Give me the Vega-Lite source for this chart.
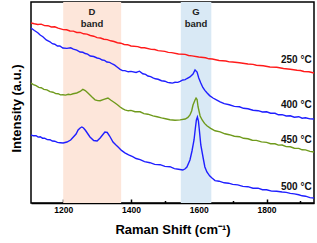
{
  "$schema": "https://vega.github.io/schema/vega-lite/v6.json",
  "width": 283,
  "height": 201,
  "autosize": {"type": "none"},
  "padding": {"left": 31, "top": 2, "right": 3, "bottom": 40},
  "background": "white",
  "config": {
    "view": {"stroke": "black", "strokeWidth": 1.5},
    "font": "Liberation Sans"
  },
  "datasets": {
    "bands": [
      {"band": "D", "start": 1200, "end": 1371},
      {"band": "G", "start": 1547, "end": 1637}
    ],
    "labels": [
      {"label": "250 °C", "x": 1933, "y": 143, "kind": "temp"},
      {"label": "400 °C", "x": 1933, "y": 98, "kind": "temp"},
      {"label": "450 °C", "x": 1933, "y": 63, "kind": "temp"},
      {"label": "500 °C", "x": 1933, "y": 16, "kind": "temp"},
      {"label": "D", "x": 1285, "y": 191, "kind": "band"},
      {"label": "band", "x": 1285, "y": 179, "kind": "band"},
      {"label": "G", "x": 1592, "y": 191, "kind": "band"},
      {"label": "band", "x": 1592, "y": 179, "kind": "band"}
    ],
    "spectra": [
      {"s": "250 °C", "w": 1105, "v": 180},
      {"s": "250 °C", "w": 1115, "v": 179.2},
      {"s": "250 °C", "w": 1125, "v": 178.5},
      {"s": "250 °C", "w": 1135, "v": 178.9},
      {"s": "250 °C", "w": 1145, "v": 177.4},
      {"s": "250 °C", "w": 1155, "v": 177.3},
      {"s": "250 °C", "w": 1165, "v": 176},
      {"s": "250 °C", "w": 1175, "v": 176.2},
      {"s": "250 °C", "w": 1185, "v": 174.9},
      {"s": "250 °C", "w": 1200, "v": 173.4},
      {"s": "250 °C", "w": 1210, "v": 173.2},
      {"s": "250 °C", "w": 1220, "v": 172},
      {"s": "250 °C", "w": 1230, "v": 171.9},
      {"s": "250 °C", "w": 1240, "v": 170.5},
      {"s": "250 °C", "w": 1250, "v": 170.6},
      {"s": "250 °C", "w": 1260, "v": 169.2},
      {"s": "250 °C", "w": 1270, "v": 168.9},
      {"s": "250 °C", "w": 1280, "v": 167.5},
      {"s": "250 °C", "w": 1290, "v": 166.8},
      {"s": "250 °C", "w": 1300, "v": 165.4},
      {"s": "250 °C", "w": 1310, "v": 165},
      {"s": "250 °C", "w": 1320, "v": 163.8},
      {"s": "250 °C", "w": 1330, "v": 163.4},
      {"s": "250 °C", "w": 1340, "v": 162.2},
      {"s": "250 °C", "w": 1350, "v": 161.5},
      {"s": "250 °C", "w": 1360, "v": 160.3},
      {"s": "250 °C", "w": 1370, "v": 159.8},
      {"s": "250 °C", "w": 1380, "v": 158.5},
      {"s": "250 °C", "w": 1390, "v": 158.3},
      {"s": "250 °C", "w": 1400, "v": 157},
      {"s": "250 °C", "w": 1420, "v": 156.4},
      {"s": "250 °C", "w": 1430, "v": 155.3},
      {"s": "250 °C", "w": 1440, "v": 155.2},
      {"s": "250 °C", "w": 1460, "v": 153.6},
      {"s": "250 °C", "w": 1470, "v": 153.5},
      {"s": "250 °C", "w": 1480, "v": 152.4},
      {"s": "250 °C", "w": 1500, "v": 151.6},
      {"s": "250 °C", "w": 1510, "v": 150.6},
      {"s": "250 °C", "w": 1520, "v": 150.4},
      {"s": "250 °C", "w": 1540, "v": 149},
      {"s": "250 °C", "w": 1560, "v": 148.6},
      {"s": "250 °C", "w": 1570, "v": 147.5},
      {"s": "250 °C", "w": 1580, "v": 147.1},
      {"s": "250 °C", "w": 1600, "v": 146},
      {"s": "250 °C", "w": 1620, "v": 145.2},
      {"s": "250 °C", "w": 1630, "v": 144.2},
      {"s": "250 °C", "w": 1640, "v": 144},
      {"s": "250 °C", "w": 1660, "v": 142.5},
      {"s": "250 °C", "w": 1680, "v": 142},
      {"s": "250 °C", "w": 1690, "v": 141.1},
      {"s": "250 °C", "w": 1700, "v": 141},
      {"s": "250 °C", "w": 1720, "v": 140.2},
      {"s": "250 °C", "w": 1745, "v": 139},
      {"s": "250 °C", "w": 1760, "v": 138.6},
      {"s": "250 °C", "w": 1770, "v": 137.8},
      {"s": "250 °C", "w": 1790, "v": 137.3},
      {"s": "250 °C", "w": 1810, "v": 136},
      {"s": "250 °C", "w": 1830, "v": 135.7},
      {"s": "250 °C", "w": 1850, "v": 134.5},
      {"s": "250 °C", "w": 1870, "v": 133.8},
      {"s": "250 °C", "w": 1890, "v": 132.8},
      {"s": "250 °C", "w": 1900, "v": 132.5},
      {"s": "250 °C", "w": 1910, "v": 131.5},
      {"s": "250 °C", "w": 1925, "v": 131.3},
      {"s": "250 °C", "w": 1940, "v": 130},

      {"s": "400 °C", "w": 1105, "v": 175},
      {"s": "400 °C", "w": 1115, "v": 172.5},
      {"s": "400 °C", "w": 1125, "v": 170.3},
      {"s": "400 °C", "w": 1132, "v": 168},
      {"s": "400 °C", "w": 1140, "v": 166.3},
      {"s": "400 °C", "w": 1150, "v": 163},
      {"s": "400 °C", "w": 1161, "v": 161.2},
      {"s": "400 °C", "w": 1168, "v": 159.3},
      {"s": "400 °C", "w": 1175, "v": 158.8},
      {"s": "400 °C", "w": 1183, "v": 157},
      {"s": "400 °C", "w": 1190, "v": 157.1},
      {"s": "400 °C", "w": 1199, "v": 155},
      {"s": "400 °C", "w": 1211, "v": 154.6},
      {"s": "400 °C", "w": 1222, "v": 155.2},
      {"s": "400 °C", "w": 1230, "v": 153.8},
      {"s": "400 °C", "w": 1240, "v": 152.8},
      {"s": "400 °C", "w": 1250, "v": 151},
      {"s": "400 °C", "w": 1258, "v": 150.7},
      {"s": "400 °C", "w": 1265, "v": 149.5},
      {"s": "400 °C", "w": 1272, "v": 148.9},
      {"s": "400 °C", "w": 1280, "v": 147},
      {"s": "400 °C", "w": 1290, "v": 146.5},
      {"s": "400 °C", "w": 1300, "v": 145},
      {"s": "400 °C", "w": 1308, "v": 144.4},
      {"s": "400 °C", "w": 1315, "v": 143},
      {"s": "400 °C", "w": 1322, "v": 142.6},
      {"s": "400 °C", "w": 1329, "v": 141},
      {"s": "400 °C", "w": 1337, "v": 140.6},
      {"s": "400 °C", "w": 1345, "v": 139},
      {"s": "400 °C", "w": 1352, "v": 137.9},
      {"s": "400 °C", "w": 1359, "v": 136},
      {"s": "400 °C", "w": 1368, "v": 133.6},
      {"s": "400 °C", "w": 1375, "v": 132.4},
      {"s": "400 °C", "w": 1382, "v": 132.4},
      {"s": "400 °C", "w": 1392, "v": 131.2},
      {"s": "400 °C", "w": 1400, "v": 131.6},
      {"s": "400 °C", "w": 1415, "v": 130.5},
      {"s": "400 °C", "w": 1425, "v": 131.8},
      {"s": "400 °C", "w": 1435, "v": 129.2},
      {"s": "400 °C", "w": 1443, "v": 128.6},
      {"s": "400 °C", "w": 1450, "v": 127},
      {"s": "400 °C", "w": 1458, "v": 126.4},
      {"s": "400 °C", "w": 1465, "v": 125.2},
      {"s": "400 °C", "w": 1472, "v": 124.2},
      {"s": "400 °C", "w": 1480, "v": 123.7},
      {"s": "400 °C", "w": 1490, "v": 122.3},
      {"s": "400 °C", "w": 1500, "v": 121.8},
      {"s": "400 °C", "w": 1508, "v": 120.6},
      {"s": "400 °C", "w": 1515, "v": 120.3},
      {"s": "400 °C", "w": 1522, "v": 119.9},
      {"s": "400 °C", "w": 1530, "v": 120.7},
      {"s": "400 °C", "w": 1538, "v": 120.6},
      {"s": "400 °C", "w": 1545, "v": 121.6},
      {"s": "400 °C", "w": 1553, "v": 123},
      {"s": "400 °C", "w": 1560, "v": 123.4},
      {"s": "400 °C", "w": 1565, "v": 124.5},
      {"s": "400 °C", "w": 1574, "v": 126},
      {"s": "400 °C", "w": 1583, "v": 129},
      {"s": "400 °C", "w": 1589, "v": 133},
      {"s": "400 °C", "w": 1595, "v": 131},
      {"s": "400 °C", "w": 1600, "v": 125},
      {"s": "400 °C", "w": 1606, "v": 120},
      {"s": "400 °C", "w": 1612, "v": 115.5},
      {"s": "400 °C", "w": 1618, "v": 112.6},
      {"s": "400 °C", "w": 1624, "v": 110.2},
      {"s": "400 °C", "w": 1632, "v": 107.4},
      {"s": "400 °C", "w": 1642, "v": 105},
      {"s": "400 °C", "w": 1652, "v": 103.2},
      {"s": "400 °C", "w": 1663, "v": 101.2},
      {"s": "400 °C", "w": 1675, "v": 99.3},
      {"s": "400 °C", "w": 1690, "v": 98.2},
      {"s": "400 °C", "w": 1705, "v": 96.6},
      {"s": "400 °C", "w": 1720, "v": 96.2},
      {"s": "400 °C", "w": 1732, "v": 94.7},
      {"s": "400 °C", "w": 1745, "v": 94.2},
      {"s": "400 °C", "w": 1760, "v": 92.8},
      {"s": "400 °C", "w": 1775, "v": 92.3},
      {"s": "400 °C", "w": 1788, "v": 91},
      {"s": "400 °C", "w": 1800, "v": 91.2},
      {"s": "400 °C", "w": 1812, "v": 89.8},
      {"s": "400 °C", "w": 1825, "v": 89.7},
      {"s": "400 °C", "w": 1835, "v": 88.2},
      {"s": "400 °C", "w": 1846, "v": 88.3},
      {"s": "400 °C", "w": 1858, "v": 87},
      {"s": "400 °C", "w": 1870, "v": 87.2},
      {"s": "400 °C", "w": 1882, "v": 85.8},
      {"s": "400 °C", "w": 1895, "v": 86.3},
      {"s": "400 °C", "w": 1905, "v": 84.8},
      {"s": "400 °C", "w": 1915, "v": 85.2},
      {"s": "400 °C", "w": 1928, "v": 84.1},
      {"s": "400 °C", "w": 1940, "v": 84},

      {"s": "450 °C", "w": 1105, "v": 120},
      {"s": "450 °C", "w": 1112, "v": 118.4},
      {"s": "450 °C", "w": 1120, "v": 117.3},
      {"s": "450 °C", "w": 1128, "v": 115.6},
      {"s": "450 °C", "w": 1135, "v": 115.3},
      {"s": "450 °C", "w": 1143, "v": 113.6},
      {"s": "450 °C", "w": 1152, "v": 113.2},
      {"s": "450 °C", "w": 1161, "v": 111.3},
      {"s": "450 °C", "w": 1170, "v": 110.8},
      {"s": "450 °C", "w": 1178, "v": 109.4},
      {"s": "450 °C", "w": 1185, "v": 109.3},
      {"s": "450 °C", "w": 1192, "v": 108.1},
      {"s": "450 °C", "w": 1199, "v": 108.3},
      {"s": "450 °C", "w": 1207, "v": 107.9},
      {"s": "450 °C", "w": 1215, "v": 108.7},
      {"s": "450 °C", "w": 1222, "v": 108.4},
      {"s": "450 °C", "w": 1229, "v": 109.2},
      {"s": "450 °C", "w": 1240, "v": 110},
      {"s": "450 °C", "w": 1250, "v": 111.5},
      {"s": "450 °C", "w": 1258, "v": 113.6},
      {"s": "450 °C", "w": 1265, "v": 112.5},
      {"s": "450 °C", "w": 1273, "v": 110},
      {"s": "450 °C", "w": 1285, "v": 106},
      {"s": "450 °C", "w": 1294, "v": 103.2},
      {"s": "450 °C", "w": 1302, "v": 102.4},
      {"s": "450 °C", "w": 1309, "v": 102.3},
      {"s": "450 °C", "w": 1320, "v": 103.6},
      {"s": "450 °C", "w": 1332, "v": 105},
      {"s": "450 °C", "w": 1340, "v": 103},
      {"s": "450 °C", "w": 1353, "v": 100},
      {"s": "450 °C", "w": 1360, "v": 98.2},
      {"s": "450 °C", "w": 1368, "v": 96},
      {"s": "450 °C", "w": 1375, "v": 94.4},
      {"s": "450 °C", "w": 1382, "v": 93.2},
      {"s": "450 °C", "w": 1392, "v": 92.2},
      {"s": "450 °C", "w": 1400, "v": 92.6},
      {"s": "450 °C", "w": 1412, "v": 91.3},
      {"s": "450 °C", "w": 1427, "v": 91.2},
      {"s": "450 °C", "w": 1438, "v": 89.4},
      {"s": "450 °C", "w": 1450, "v": 88.8},
      {"s": "450 °C", "w": 1465, "v": 87.1},
      {"s": "450 °C", "w": 1477, "v": 86.3},
      {"s": "450 °C", "w": 1490, "v": 85.1},
      {"s": "450 °C", "w": 1502, "v": 84.2},
      {"s": "450 °C", "w": 1515, "v": 83.2},
      {"s": "450 °C", "w": 1530, "v": 82.8},
      {"s": "450 °C", "w": 1545, "v": 83.1},
      {"s": "450 °C", "w": 1560, "v": 84},
      {"s": "450 °C", "w": 1568, "v": 85.6},
      {"s": "450 °C", "w": 1574, "v": 88},
      {"s": "450 °C", "w": 1579, "v": 92},
      {"s": "450 °C", "w": 1583, "v": 98},
      {"s": "450 °C", "w": 1589, "v": 103},
      {"s": "450 °C", "w": 1592, "v": 105},
      {"s": "450 °C", "w": 1595, "v": 103.5},
      {"s": "450 °C", "w": 1598, "v": 96},
      {"s": "450 °C", "w": 1604, "v": 87},
      {"s": "450 °C", "w": 1610, "v": 83},
      {"s": "450 °C", "w": 1617, "v": 79.6},
      {"s": "450 °C", "w": 1624, "v": 77.2},
      {"s": "450 °C", "w": 1635, "v": 74.6},
      {"s": "450 °C", "w": 1648, "v": 72.2},
      {"s": "450 °C", "w": 1663, "v": 71.1},
      {"s": "450 °C", "w": 1677, "v": 69.2},
      {"s": "450 °C", "w": 1690, "v": 68.3},
      {"s": "450 °C", "w": 1705, "v": 66.8},
      {"s": "450 °C", "w": 1720, "v": 66.3},
      {"s": "450 °C", "w": 1732, "v": 64.7},
      {"s": "450 °C", "w": 1745, "v": 64.2},
      {"s": "450 °C", "w": 1758, "v": 62.8},
      {"s": "450 °C", "w": 1770, "v": 62.6},
      {"s": "450 °C", "w": 1785, "v": 61.1},
      {"s": "450 °C", "w": 1800, "v": 60.6},
      {"s": "450 °C", "w": 1812, "v": 59.3},
      {"s": "450 °C", "w": 1825, "v": 59.2},
      {"s": "450 °C", "w": 1835, "v": 57.9},
      {"s": "450 °C", "w": 1846, "v": 58},
      {"s": "450 °C", "w": 1858, "v": 56.4},
      {"s": "450 °C", "w": 1870, "v": 56.2},
      {"s": "450 °C", "w": 1882, "v": 54.8},
      {"s": "450 °C", "w": 1895, "v": 54.6},
      {"s": "450 °C", "w": 1905, "v": 53.2},
      {"s": "450 °C", "w": 1915, "v": 53.1},
      {"s": "450 °C", "w": 1928, "v": 51.6},
      {"s": "450 °C", "w": 1940, "v": 51},

      {"s": "500 °C", "w": 1105, "v": 68},
      {"s": "500 °C", "w": 1112, "v": 67.2},
      {"s": "500 °C", "w": 1120, "v": 67.4},
      {"s": "500 °C", "w": 1126, "v": 65.9},
      {"s": "500 °C", "w": 1132, "v": 66.3},
      {"s": "500 °C", "w": 1139, "v": 64.8},
      {"s": "500 °C", "w": 1145, "v": 64.9},
      {"s": "500 °C", "w": 1153, "v": 63.4},
      {"s": "500 °C", "w": 1161, "v": 63.3},
      {"s": "500 °C", "w": 1168, "v": 62},
      {"s": "500 °C", "w": 1175, "v": 61.8},
      {"s": "500 °C", "w": 1183, "v": 60.6},
      {"s": "500 °C", "w": 1191, "v": 60.3},
      {"s": "500 °C", "w": 1200, "v": 60},
      {"s": "500 °C", "w": 1211, "v": 61},
      {"s": "500 °C", "w": 1222, "v": 63},
      {"s": "500 °C", "w": 1230, "v": 66},
      {"s": "500 °C", "w": 1238, "v": 69},
      {"s": "500 °C", "w": 1244, "v": 73},
      {"s": "500 °C", "w": 1250, "v": 75},
      {"s": "500 °C", "w": 1255, "v": 76},
      {"s": "500 °C", "w": 1260, "v": 75},
      {"s": "500 °C", "w": 1266, "v": 72.5},
      {"s": "500 °C", "w": 1273, "v": 69},
      {"s": "500 °C", "w": 1279, "v": 66},
      {"s": "500 °C", "w": 1290, "v": 62.5},
      {"s": "500 °C", "w": 1300, "v": 62},
      {"s": "500 °C", "w": 1309, "v": 65},
      {"s": "500 °C", "w": 1316, "v": 68},
      {"s": "500 °C", "w": 1323, "v": 71},
      {"s": "500 °C", "w": 1330, "v": 70.5},
      {"s": "500 °C", "w": 1337, "v": 67},
      {"s": "500 °C", "w": 1347, "v": 61},
      {"s": "500 °C", "w": 1355, "v": 58.2},
      {"s": "500 °C", "w": 1362, "v": 56},
      {"s": "500 °C", "w": 1372, "v": 52.6},
      {"s": "500 °C", "w": 1382, "v": 50.2},
      {"s": "500 °C", "w": 1393, "v": 48.2},
      {"s": "500 °C", "w": 1405, "v": 46.4},
      {"s": "500 °C", "w": 1415, "v": 44.5},
      {"s": "500 °C", "w": 1427, "v": 43.4},
      {"s": "500 °C", "w": 1440, "v": 41.4},
      {"s": "500 °C", "w": 1456, "v": 40.3},
      {"s": "500 °C", "w": 1470, "v": 38.6},
      {"s": "500 °C", "w": 1486, "v": 38.3},
      {"s": "500 °C", "w": 1500, "v": 36.6},
      {"s": "500 °C", "w": 1515, "v": 36.3},
      {"s": "500 °C", "w": 1528, "v": 34.4},
      {"s": "500 °C", "w": 1540, "v": 33.8},
      {"s": "500 °C", "w": 1553, "v": 33},
      {"s": "500 °C", "w": 1560, "v": 34.2},
      {"s": "500 °C", "w": 1565, "v": 36},
      {"s": "500 °C", "w": 1574, "v": 43},
      {"s": "500 °C", "w": 1580, "v": 52},
      {"s": "500 °C", "w": 1586, "v": 63},
      {"s": "500 °C", "w": 1590, "v": 75},
      {"s": "500 °C", "w": 1593, "v": 83},
      {"s": "500 °C", "w": 1596, "v": 86},
      {"s": "500 °C", "w": 1599, "v": 82},
      {"s": "500 °C", "w": 1602, "v": 72},
      {"s": "500 °C", "w": 1606, "v": 58},
      {"s": "500 °C", "w": 1613, "v": 45},
      {"s": "500 °C", "w": 1618, "v": 36},
      {"s": "500 °C", "w": 1624, "v": 31},
      {"s": "500 °C", "w": 1632, "v": 27.2},
      {"s": "500 °C", "w": 1639, "v": 25},
      {"s": "500 °C", "w": 1648, "v": 22.4},
      {"s": "500 °C", "w": 1660, "v": 21.8},
      {"s": "500 °C", "w": 1675, "v": 20.2},
      {"s": "500 °C", "w": 1688, "v": 19.8},
      {"s": "500 °C", "w": 1700, "v": 18.6},
      {"s": "500 °C", "w": 1715, "v": 18.1},
      {"s": "500 °C", "w": 1730, "v": 16.6},
      {"s": "500 °C", "w": 1745, "v": 16.3},
      {"s": "500 °C", "w": 1760, "v": 14.8},
      {"s": "500 °C", "w": 1775, "v": 14.8},
      {"s": "500 °C", "w": 1788, "v": 13.3},
      {"s": "500 °C", "w": 1800, "v": 13.2},
      {"s": "500 °C", "w": 1815, "v": 11.9},
      {"s": "500 °C", "w": 1830, "v": 11.8},
      {"s": "500 °C", "w": 1846, "v": 11},
      {"s": "500 °C", "w": 1858, "v": 10.6},
      {"s": "500 °C", "w": 1870, "v": 9.6},
      {"s": "500 °C", "w": 1882, "v": 9.1},
      {"s": "500 °C", "w": 1895, "v": 8.2},
      {"s": "500 °C", "w": 1905, "v": 7.2},
      {"s": "500 °C", "w": 1915, "v": 6.8},
      {"s": "500 °C", "w": 1928, "v": 5.4},
      {"s": "500 °C", "w": 1940, "v": 5}
    ]
  },
  "layer": [
    {
      "data": {"name": "bands"},
      "mark": {"type": "rect"},
      "encoding": {
        "x": {
          "field": "start", "type": "quantitative",
          "scale": {"domain": [1105, 1940], "nice": false, "zero": false},
          "axis": {
            "title": "Raman Shift (cm⁻¹)",
            "values": [1200, 1300, 1400, 1500, 1600, 1700, 1800, 1900],
            "format": "d",
            "labelExpr": "datum.value % 200 == 0 ? datum.label : ''",
            "labelFontSize": 8.5,
            "labelFontWeight": "bold",
            "labelColor": "black",
            "labelPadding": 6,
            "tickColor": "black",
            "tickWidth": 1.5,
            "tickSize": {"condition": {"test": "datum.value % 200 == 0", "value": -4}, "value": -2.5},
            "domainColor": "black",
            "domainWidth": 1.5,
            "grid": false,
            "titleFontSize": 13,
            "titleFontWeight": "bold",
            "titleColor": "black",
            "titlePadding": 10
          }
        },
        "x2": {"field": "end"},
        "fill": {
          "field": "band", "type": "nominal",
          "scale": {"domain": ["D", "G"], "range": ["#fde6da", "#d9e9f5"]},
          "legend": null
        }
      }
    },
    {
      "data": {"name": "spectra"},
      "mark": {"type": "line", "strokeWidth": 1.4},
      "encoding": {
        "x": {"field": "w", "type": "quantitative"},
        "y": {
          "field": "v", "type": "quantitative",
          "scale": {"domain": [0, 201], "nice": false, "zero": false},
          "axis": {
            "title": "Intensity (a.u.)",
            "labels": false,
            "ticks": false,
            "domain": false,
            "grid": false,
            "titleFontSize": 13,
            "titleFontWeight": "bold",
            "titleColor": "black",
            "titlePadding": 8,
            "titleY": 106
          }
        },
        "stroke": {
          "field": "s", "type": "nominal",
          "scale": {"domain": ["250 °C", "400 °C", "450 °C", "500 °C"], "range": ["#ff1a1a", "#1f1fff", "#6f9a1c", "#1f1fff"]},
          "legend": null
        }
      }
    },
    {
      "data": {"name": "labels"},
      "transform": [{"filter": "datum.kind == 'temp'"}],
      "mark": {"type": "text", "align": "right", "baseline": "middle", "fontSize": 10, "fontWeight": "bold", "color": "#111"},
      "encoding": {
        "x": {"field": "x", "type": "quantitative"},
        "y": {"field": "y", "type": "quantitative"},
        "text": {"field": "label"}
      }
    },
    {
      "data": {"name": "labels"},
      "transform": [{"filter": "datum.kind == 'band'"}],
      "mark": {"type": "text", "align": "center", "baseline": "middle", "fontSize": 9.5, "fontWeight": "bold", "color": "#222"},
      "encoding": {
        "x": {"field": "x", "type": "quantitative"},
        "y": {"field": "y", "type": "quantitative"},
        "text": {"field": "label"}
      }
    }
  ]
}
